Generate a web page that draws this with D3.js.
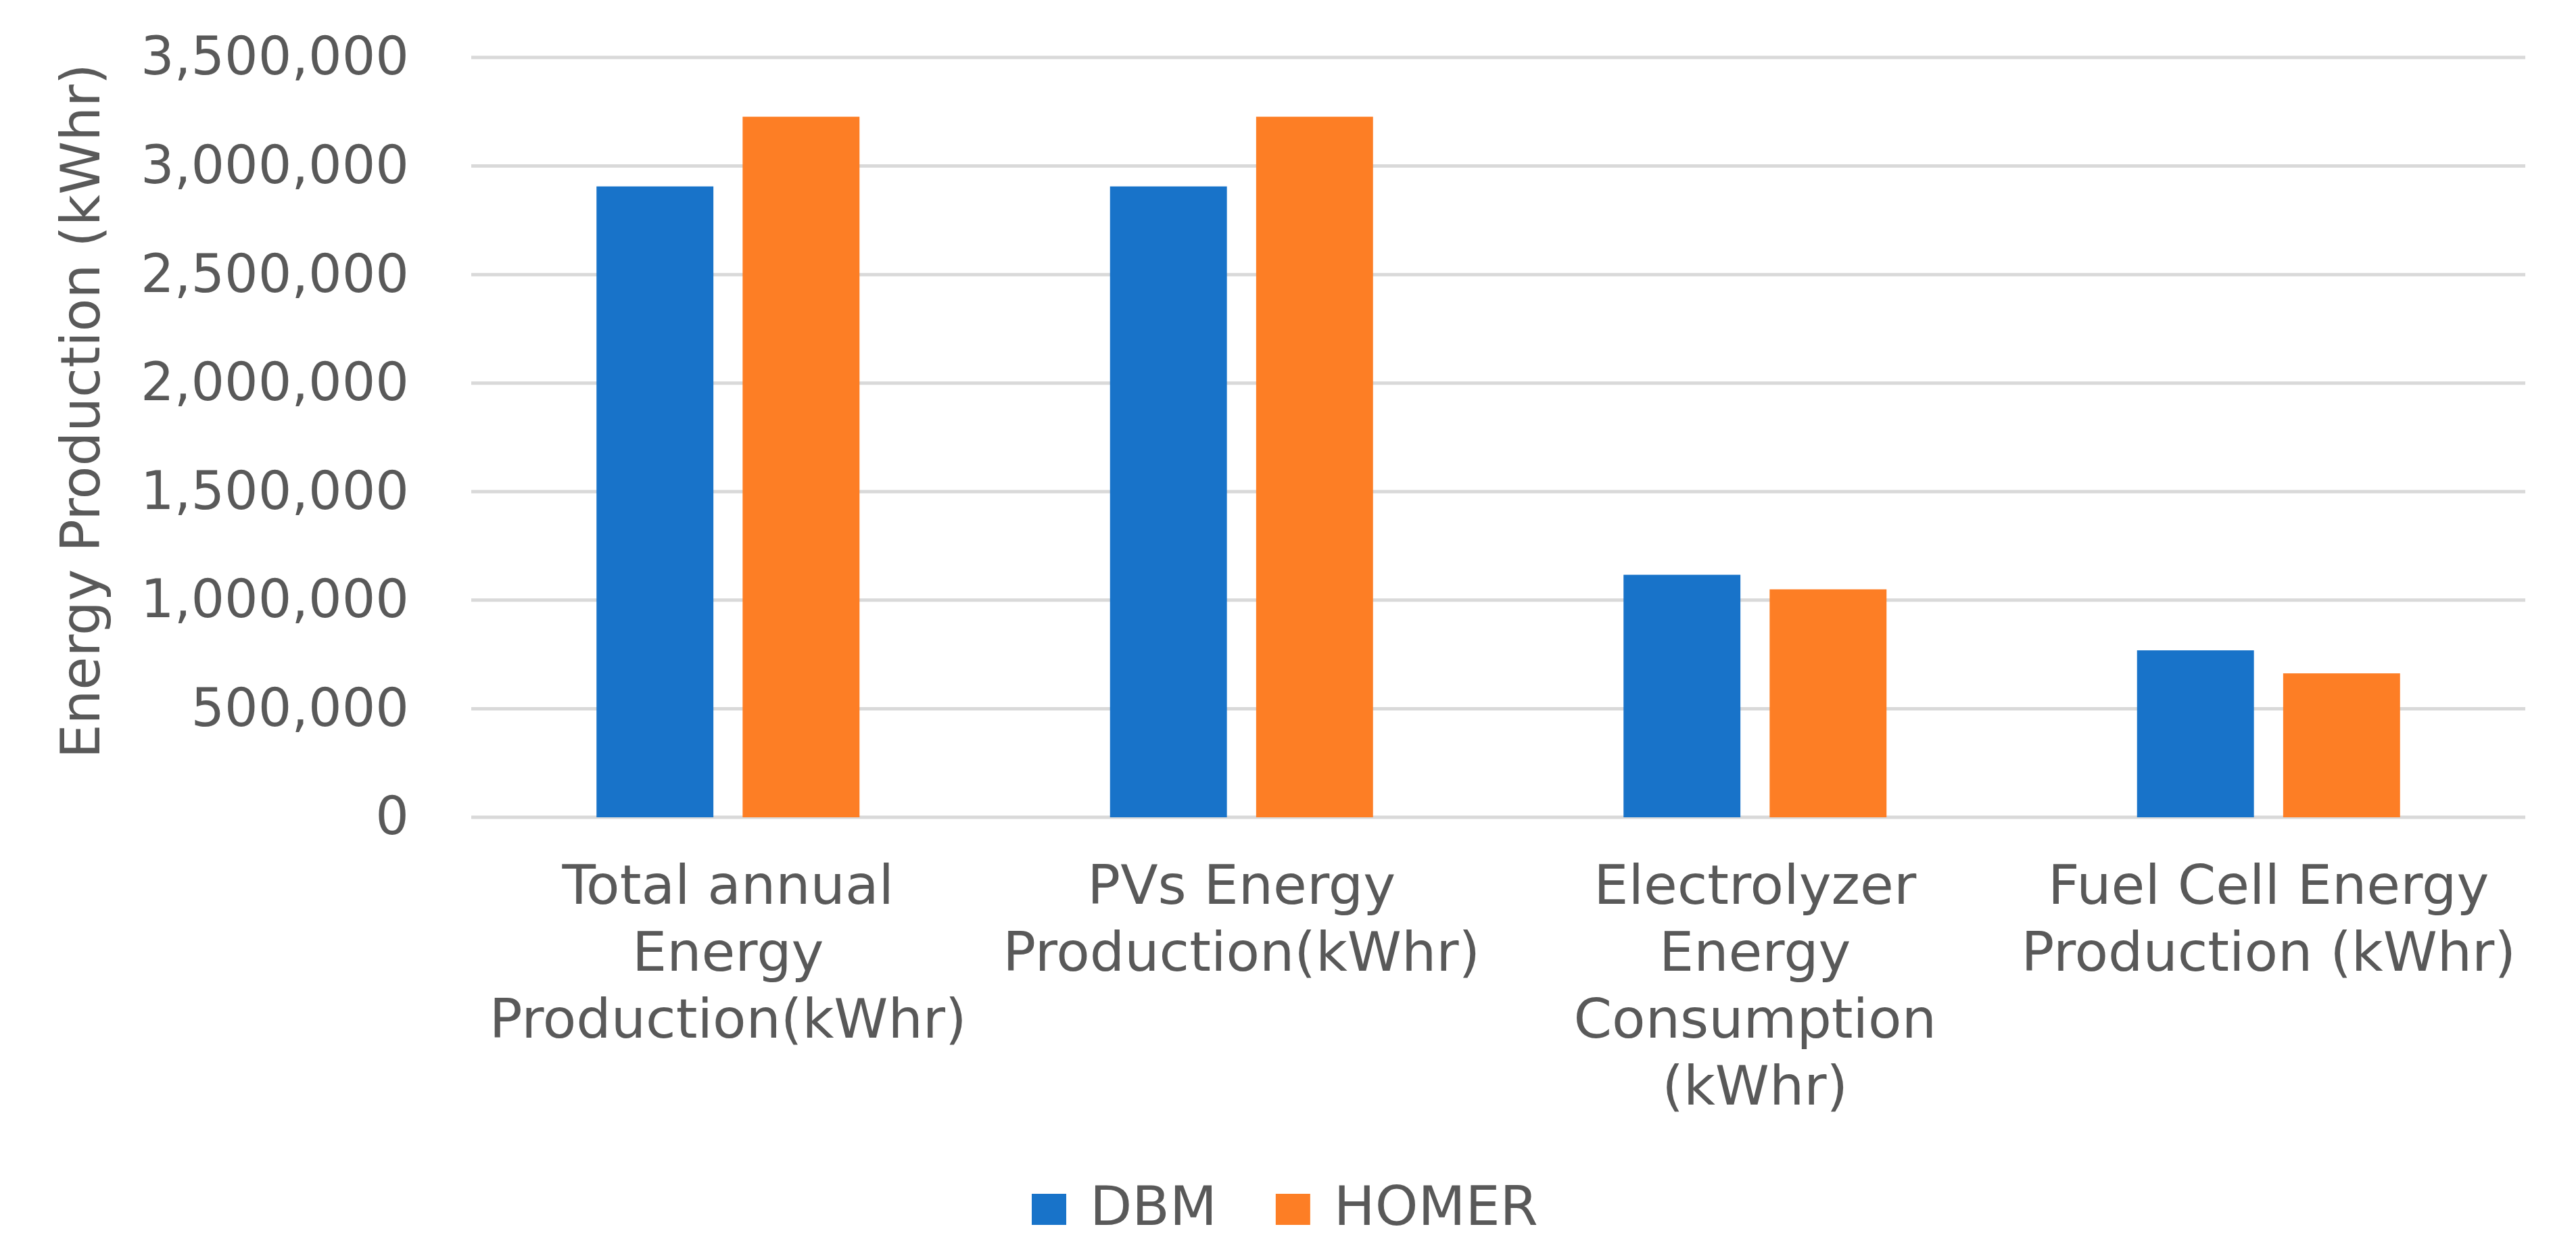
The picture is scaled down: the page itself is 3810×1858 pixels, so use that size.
<!DOCTYPE html>
<html lang="en">

<head>
    <meta charset="UTF-8">
    <meta name="viewport" content="width=device-width, initial-scale=1.0">
    <title>Energy Production DBM vs HOMER</title>
    <style>
        body {
            margin: 0;
            background: #ffffff;
        }

        text {
            font-family: 'DejaVu Sans', sans-serif;
            fill: #595959;
        }
    </style>
</head>

<body>
    <script src="https://d3js.org/d3.v7.min.js"></script>
    <script>
        // Category labels, one entry per wrapped line.
        const categoryLines = [
            ['Total annual', 'Energy', 'Production(kWhr)'],
            ['PVs Energy', 'Production(kWhr)'],
            ['Electrolyzer', 'Energy', 'Consumption', '(kWhr)'],
            ['Fuel Cell Energy', 'Production (kWhr)']
        ];
        const seriesNames = ['DBM', 'HOMER'];
        const dbmValues = [2906000, 2906000, 1117000, 769000];
        const homerValues = [3227000, 3227000, 1050000, 663000];
        const yTicks = [0, 500000, 1000000, 1500000, 2000000, 2500000, 3000000, 3500000];
        const seriesColors = ['#1873c9', '#fd7e25'];

        const WIDTH = 3810;
        const HEIGHT = 1858;

        // Plot area edges.
        const margin = {
            top: 85,
            right: 75,
            bottom: 649,
            left: 697
        };

        const TICK_FONT = 78;
        const LABEL_FONT = 81;
        const TITLE_FONT = 80;
        const LINE_HEIGHT = 99;
        const GROUP_WIDTH = 389;

        const drawBarChart = function () {
            const categories = categoryLines.map(d => d.join(' '));
            const seriesValues = [dbmValues, homerValues];

            const dataSet = categories.map((c, i) => ({
                category: c,
                values: seriesNames.map((s, j) => ({ series: s, value: seriesValues[j][i] }))
            }));

            const svg = d3
                .select('body')
                .append('svg')
                .attr('width', WIDTH)
                .attr('height', HEIGHT);

            const xScale = d3
                .scaleBand()
                .domain(categories)
                .range([margin.left, WIDTH - margin.right]);

            const innerScale = d3
                .scaleBand()
                .domain(seriesNames)
                .range([xScale.bandwidth() / 2 - GROUP_WIDTH / 2, xScale.bandwidth() / 2 + GROUP_WIDTH / 2])
                .paddingInner(0.2);

            const yScale = d3
                .scaleLinear()
                .domain([0, 3500000])
                .range([HEIGHT - margin.bottom, margin.top]);

            const colorScale = d3.scaleOrdinal().domain(seriesNames).range(seriesColors);

            // Gridlines.
            svg
                .append('g')
                .attr('class', 'grid')
                .selectAll('line')
                .data(yTicks)
                .enter()
                .append('line')
                .attr('x1', margin.left)
                .attr('x2', WIDTH - margin.right)
                .attr('y1', d => yScale(d))
                .attr('y2', d => yScale(d))
                .attr('stroke', '#d9d9d9')
                .attr('stroke-width', 5);

            // Y axis labels.
            const yAxis = svg
                .append('g')
                .attr('transform', `translate(${margin.left}, 0)`)
                .call(
                    d3.axisLeft(yScale)
                        .tickValues(yTicks)
                        .tickFormat(d3.format(','))
                        .tickSize(0)
                        .tickPadding(92)
                );
            yAxis.select('.domain').remove();
            yAxis
                .selectAll('text')
                .attr('fill', '#595959')
                .style('font-family', "'DejaVu Sans', sans-serif")
                .style('font-size', TICK_FONT + 'px');

            // Bars.
            const groups = svg
                .append('g')
                .selectAll('g')
                .data(dataSet)
                .enter()
                .append('g')
                .attr('transform', d => `translate(${xScale(d.category)}, 0)`);

            groups
                .selectAll('rect')
                .data(d => d.values)
                .enter()
                .append('rect')
                .attr('x', d => innerScale(d.series))
                .attr('y', d => yScale(d.value))
                .attr('width', innerScale.bandwidth())
                .attr('height', d => yScale(0) - yScale(d.value))
                .attr('fill', d => colorScale(d.series));

            // Category labels.
            const xLabels = svg
                .append('g')
                .selectAll('text')
                .data(dataSet)
                .enter()
                .append('text')
                .attr('text-anchor', 'middle')
                .style('font-size', LABEL_FONT + 'px')
                .attr('x', d => xScale(d.category) + xScale.bandwidth() / 2)
                .attr('y', yScale(0) + 128);

            xLabels
                .selectAll('tspan')
                .data((d, i) => categoryLines[i])
                .enter()
                .append('tspan')
                .attr('x', function () {
                    return d3.select(this.parentNode).attr('x');
                })
                .attr('dy', (d, i) => (i === 0 ? 0 : LINE_HEIGHT))
                .text(d => d);

            // Y axis title.
            svg
                .append('text')
                .attr('transform', `translate(147, ${(yScale(0) + yScale(3500000)) / 2 - 39}) rotate(-90)`)
                .attr('text-anchor', 'middle')
                .style('font-size', TITLE_FONT + 'px')
                .text('Energy Production (kWhr)');

            // Legend.
            const legend = svg.append('g').attr('transform', 'translate(1526, 1812)');
            let offset = 0;
            seriesNames.forEach(name => {
                const item = legend.append('g').attr('transform', `translate(${offset}, 0)`);
                item
                    .append('rect')
                    .attr('x', 0)
                    .attr('y', -46)
                    .attr('width', 51)
                    .attr('height', 46)
                    .attr('fill', colorScale(name));
                const label = item
                    .append('text')
                    .attr('x', 86)
                    .attr('y', 0)
                    .style('font-size', LABEL_FONT + 'px')
                    .text(name);
                offset += 86 + label.node().getComputedTextLength() + 87;
            });
        };

        drawBarChart();
    </script>
</body>

</html>
